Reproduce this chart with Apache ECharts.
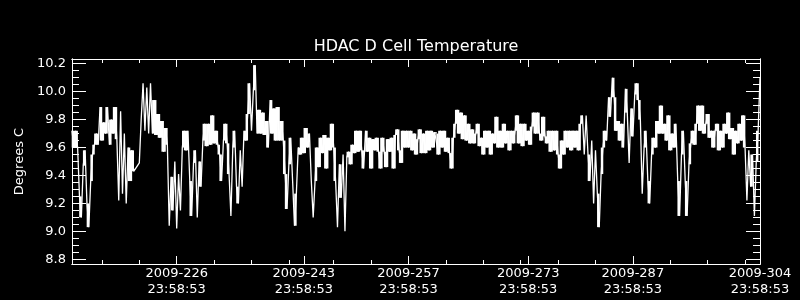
<!DOCTYPE html>
<html><head><meta charset="utf-8">
<script src="https://cdn.jsdelivr.net/npm/echarts@6/dist/echarts.min.js"></script>
<style>html,body{margin:0;padding:0;background:#000}#c{width:800px;height:300px}</style>
</head><body><div id="c"></div>
<script>
const chartTitle = 'HDAC D Cell Temperature';
const yAxisName = 'Degrees C';
// sampling grid: day-of-year 2009, one sample every quarter day
const startDay = 213.0;
const stepDay = 0.25;
const tempC = [
  9.72, 9.60, 9.72, 9.60, 9.25, 9.10, 9.47, 9.58, 9.20, 9.03,
  9.36, 9.55, 9.62, 9.70, 9.62, 9.89, 9.65, 9.78, 9.70, 9.89,
  9.62, 9.80, 9.70, 9.89, 9.66, 9.22, 9.86, 9.27, 9.70, 9.20,
  9.60, 9.36, 9.58, 9.43, null, null, 9.49, 9.80, 10.06, 9.72,
  10.03, 9.70, 10.06, 9.70, 9.94, 9.69, 9.84, 9.67, 9.79, 9.57,
  9.74, 9.62, 9.04, 9.39, 9.15, 9.50, 9.02, 9.41, 9.15, 9.60,
  9.72, 9.58, 9.72, 9.36, 9.11, 9.49, 9.58, 9.10, 9.50, 9.32,
  9.65, 9.77, 9.61, 9.77, 9.62, 9.83, 9.63, 9.72, 9.62, 9.55,
  9.36, 9.65, 9.77, 9.63, 9.41, 9.11, 9.60, 9.72, 9.32, 9.20,
  9.58, 9.32, 9.72, 9.65, 9.84, 10.06, 9.72, 10.01, 10.19, 9.70,
  9.87, 9.70, 9.85, 9.69, 9.79, 9.60, 9.94, 9.70, 9.88, 9.65,
  9.89, 9.65, 9.79, 9.65, 9.41, 9.16, 9.48, 9.67, 9.36, 9.04,
  9.27, 9.60, 9.55, 9.67, 9.56, 9.74, 9.60, 9.70, 9.36, 9.10,
  9.36, 9.60, 9.46, 9.67, 9.56, 9.69, 9.45, 9.67, 9.58, 9.77,
  9.60, 9.36, 9.03, 9.48, 9.24, 9.55, 9.00, 9.53, 9.57, 9.48,
  9.62, 9.56, 9.72, 9.57, 9.72, 9.58, 9.45, 9.72, 9.57, 9.67,
  9.45, 9.66, 9.58, 9.67, 9.57, 9.45, 9.67, 9.57, 9.46, 9.66,
  9.57, 9.67, 9.45, 9.69, 9.73, 9.58, 9.49, 9.72, 9.60, 9.72,
  9.60, 9.72, 9.58, 9.70, 9.55, 9.66, 9.73, 9.56, 9.70, 9.56,
  9.72, 9.58, 9.72, 9.60, 9.71, 9.70, 9.55, 9.72, 9.60, 9.72,
  9.57, 9.67, 9.56, 9.45, 9.67, 9.77, 9.87, 9.70, 9.85, 9.66,
  9.83, 9.65, 9.77, 9.63, 9.73, 9.63, 9.70, 9.77, 9.61, 9.67,
  9.55, 9.72, 9.60, 9.72, 9.55, 9.70, 9.63, 9.82, 9.60, 9.72,
  9.60, 9.77, 9.63, 9.72, 9.58, 9.72, 9.63, 9.72, 9.83, 9.63,
  9.77, 9.61, 9.77, 9.65, 9.72, 9.62, 9.75, 9.85, 9.70, 9.85,
  9.70, 9.65, 9.82, 9.68, 9.63, 9.72, 9.57, 9.72, 9.58, 9.72,
  9.55, 9.45, 9.65, 9.55, 9.72, 9.60, 9.72, 9.58, 9.72, 9.60,
  9.72, 9.58, 9.77, 9.83, 9.55, 9.83, 9.55, 9.36, 9.65, 9.20,
  9.58, 9.27, 9.03, 9.41, 9.60, 9.72, 9.65, 9.96, 9.82, 10.10,
  9.96, 9.72, 9.79, 9.65, 9.77, 9.60, 10.02, 9.85, 9.49, 9.88,
  9.68, 9.98, 10.06, 9.94, 9.80, 9.27, 9.60, 9.72, 9.36, 9.20,
  9.55, 9.67, 9.60, 9.79, 9.70, 9.90, 9.70, 9.77, 9.65, 9.83,
  9.58, 9.70, 9.60, 9.77, 9.36, 9.11, 9.55, 9.72, 9.36, 9.11,
  9.48, 9.63, 9.72, 9.62, 9.77, 9.90, 9.72, 9.90, 9.70, 9.77,
  9.84, 9.67, 9.72, 9.60, 9.72, 9.77, 9.58, 9.72, 9.60, 9.77,
  9.70, 9.85, 9.66, 9.74, 9.55, 9.72, 9.63, 9.77, 9.65, 9.83,
  9.60, 9.22, 9.58, 9.32, 9.55, 9.11, 9.50, 9.72, 10.10
];
const xMajorDays = [226.999, 243.999, 257.999, 273.999, 287.999, 304.999];
const xMajorLabels = ['2009-226\n23:58:53', '2009-243\n23:58:53', '2009-257\n23:58:53',
                      '2009-273\n23:58:53', '2009-287\n23:58:53', '2009-304\n23:58:53'];
const xMinorDays = [217, 222, 232, 237, 242, 248, 253, 263, 268, 273, 278, 283, 293, 298, 303];
const yMajorTicks = [8.8, 9.0, 9.2, 9.4, 9.6, 9.8, 10.0, 10.2];
const yMinorTicks = [8.85, 8.9, 8.95, 9.05, 9.1, 9.15, 9.25, 9.3, 9.35, 9.45, 9.5, 9.55,
                     9.65, 9.7, 9.75, 9.85, 9.9, 9.95, 10.05, 10.1, 10.15];
const xRange = [212.999, 304.999];
const yRange = [8.766, 10.234];

const FONT = 'DejaVu Sans';
const WHITE = '#ffffff';
const NOISE_SPAN = 0.25; // consecutive samples closer than this are painted as a solid noise band
const points = tempC.map((v, i) => [startDay + i * stepDay, v]);
const spans = [];
for (let i = 0; i + 1 < points.length; i++) {
  const a = points[i], b = points[i + 1];
  if (a[1] == null || b[1] == null) continue;
  const lo = Math.min(a[1], b[1]), hi = Math.max(a[1], b[1]);
  if (hi - lo <= NOISE_SPAN) spans.push([a[0], b[0], lo, hi]);
}

function xAxisDef(position, ticks, len, withLabels) {
  return {
    type: 'value', min: xRange[0], max: xRange[1], position: position,
    axisLine: { show: true, onZero: false, lineStyle: { color: WHITE, width: 1 } },
    axisTick: { show: true, inside: true, length: len, customValues: ticks, lineStyle: { color: WHITE, width: 1 } },
    axisLabel: withLabels ? {
      show: true, customValues: xMajorDays, color: WHITE, fontFamily: FONT, fontSize: 13,
      lineHeight: 16, margin: 2,
      formatter: function (v) {
        const k = xMajorDays.findIndex(d => Math.abs(d - v) < 1e-6);
        return k >= 0 ? xMajorLabels[k] : '';
      }
    } : { show: false },
    splitLine: { show: false }
  };
}
function yAxisDef(position, ticks, len, withLabels) {
  const ax = {
    type: 'value', min: yRange[0], max: yRange[1], position: position,
    axisLine: { show: true, onZero: false, lineStyle: { color: WHITE, width: 1 } },
    axisTick: { show: true, inside: true, length: len, customValues: ticks, lineStyle: { color: WHITE, width: 1 } },
    axisLabel: withLabels ? {
      show: true, customValues: yMajorTicks, color: WHITE, fontFamily: FONT, fontSize: 13, margin: 6,
      formatter: v => v.toFixed(1)
    } : { show: false },
    splitLine: { show: false }
  };
  if (withLabels) {
    ax.name = yAxisName;
    ax.nameLocation = 'middle';
    ax.nameRotate = 90;
    ax.nameGap = 32;
    ax.nameTextStyle = { color: WHITE, fontFamily: FONT, fontSize: 13 };
  }
  return ax;
}

const chart = echarts.init(document.getElementById('c'), null, { renderer: 'canvas' });
chart.setOption({
  backgroundColor: '#000000',
  animation: false,
  title: {
    text: chartTitle, left: 416, top: 39, textAlign: 'center', padding: 0,
    textStyle: { color: WHITE, fontFamily: FONT, fontSize: 16, fontWeight: 'normal' }
  },
  grid: { left: 72, right: 40, top: 59, bottom: 36, containLabel: false },
  xAxis: [
    xAxisDef('bottom', xMajorDays, 8, true),
    xAxisDef('top', xMajorDays, 8, false),
    xAxisDef('bottom', xMinorDays, 4, false),
    xAxisDef('top', xMinorDays, 4, false)
  ],
  yAxis: [
    yAxisDef('left', yMajorTicks, 14, true),
    yAxisDef('right', yMajorTicks, 14, false),
    yAxisDef('left', yMinorTicks, 7, false),
    yAxisDef('right', yMinorTicks, 7, false)
  ],
  series: [{
    type: 'custom', xAxisIndex: 0, yAxisIndex: 0, data: spans, silent: true,
    dimensions: ['t0', 't1', 'lo', 'hi'],
    encode: { x: ['t0', 't1'], y: ['lo', 'hi'] },
    renderItem: function (params, api) {
      const pA = api.coord([api.value(0), api.value(3)]);
      const pB = api.coord([api.value(1), api.value(2)]);
      const left = Math.min(pA[0], pB[0]) - 0.3;
      const right = Math.max(pA[0], pB[0]) + 0.3;
      const top = Math.min(pA[1], pB[1]);
      const bottom = Math.max(pA[1], pB[1]);
      return {
        type: 'rect',
        shape: { x: left, y: top, width: right - left, height: Math.max(1, bottom - top) },
        style: { fill: WHITE, stroke: null }
      };
    }
  }, {
    type: 'line', xAxisIndex: 0, yAxisIndex: 0, data: points,
    showSymbol: false, connectNulls: true,
    lineStyle: { color: WHITE, width: 1.3 }, silent: true
  }]
});
</script></body></html>
